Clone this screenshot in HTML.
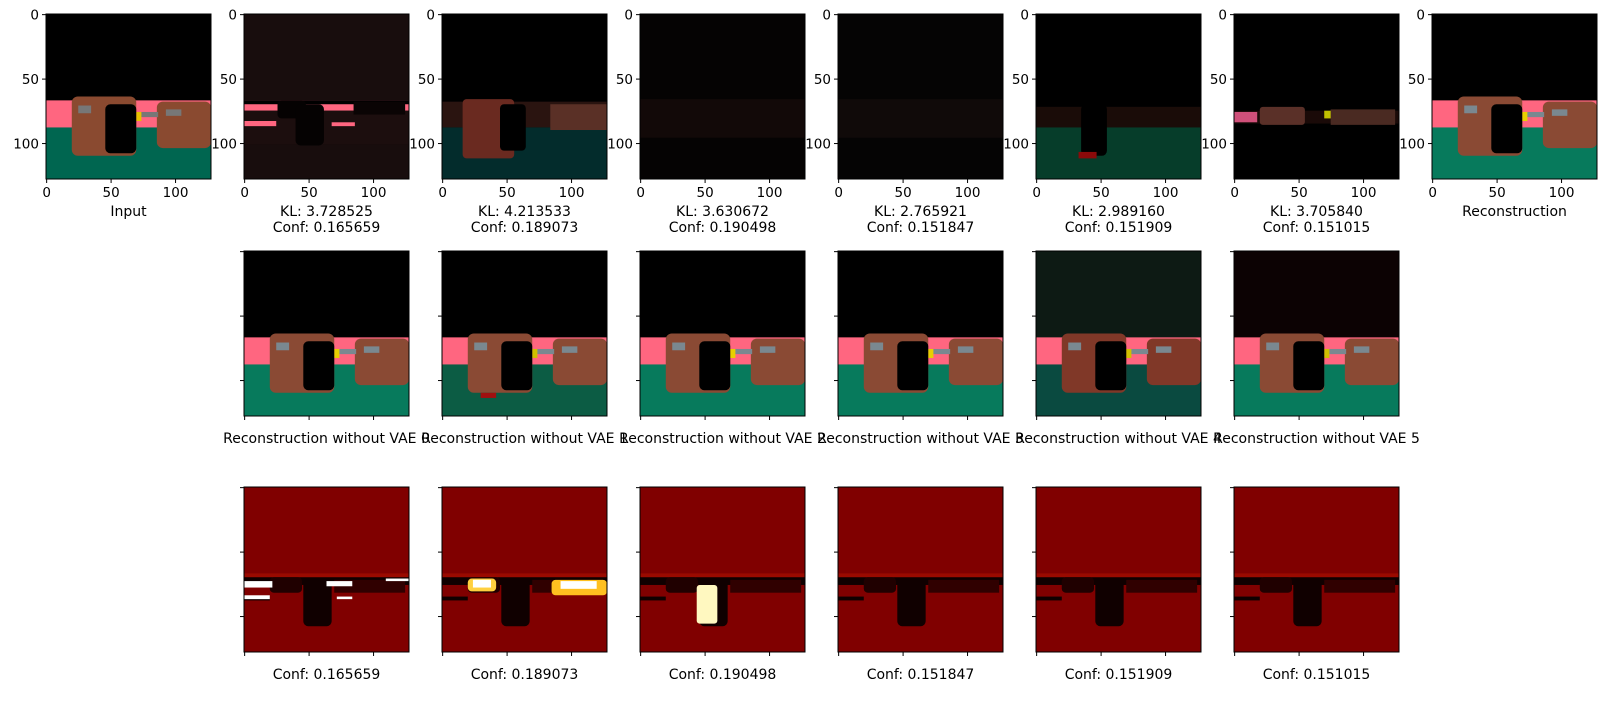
<!DOCTYPE html>
<html><head><meta charset="utf-8">
<style>
body{margin:0;background:#fff;width:1617px;height:702px;overflow:hidden;font-family:"DejaVu Sans","Liberation Sans",sans-serif;}
svg text{font-family:"DejaVu Sans","Liberation Sans",sans-serif;font-size:13.5px;fill:#000;}
svg text.big{font-size:14px;}
</style></head>
<body>
<svg id="fig" width="1617" height="702" viewBox="0 0 1617 702"></svg>
<script>
const klValues = [3.728525, 4.213533, 3.630672, 2.765921, 2.989160, 3.705840];
const confValues = [0.165659, 0.189073, 0.190498, 0.151847, 0.151909, 0.151015];
const xTicks = [0, 50, 100];
const yTicks = [0, 50, 100];
const imgSize = 128;

const NS = 'http://www.w3.org/2000/svg';
const svg = document.getElementById('fig');
const P = 165, X0 = 46, DX = 198, ROWY = [14, 251, 487];
function el(tag, attrs, parent){const e=document.createElementNS(NS,tag);for(const k in attrs)e.setAttribute(k,attrs[k]);(parent||svg).appendChild(e);return e;}
function sc(v){return (v+0.5)/imgSize*P;}

function scene(g, o){
  const r=(x,y,w,h,c,extra)=>{const e=el('rect',Object.assign({x:x/imgSize*P,y:y/imgSize*P,width:w/imgSize*P,height:h/imgSize*P,fill:c},extra||{}),g);return e;};
  r(0,0,128,128,o.sky);
  if(o.pink) r(0,67,128,22,o.pink);
  if(o.floor) r(0,88,128,40,o.floor);
  if(o.tv){ r(20,64,50,46,o.tv,{rx:6}); r(86,68,42,36,o.tv,{rx:6}); }
  if(o.grey){ r(25,71,10,6,o.grey); r(73,76,14,4,o.grey); r(93,74,12,5,o.grey);}
  if(o.yellow) r(70,76,4,7,o.yellow);
  if(o.screen) r(46,70,24,38,o.screen,{rx:5});
  if(o.extra) o.extra(r);
}
const scenes = {
  input:{sky:'#000',pink:'#ff6680',floor:'#006650',tv:'#8a4a30',grey:'#777',yellow:'#e8c000',screen:'#000'},
  recon:{sky:'#000',pink:'#ff6680',floor:'#077a5c',tv:'#8a4a34',grey:'#7a8890',yellow:'#e8d000',screen:'#000'},
};
const row1 = [
  scenes.input,
  {sky:'#180d0d',extra:r=>{r(0,67,128,8,'#ff6680');r(0,67,128,3,'#000');r(0,75,128,26,'#1c0e0e');r(0,83,25,4,'#ff6680');r(68,84,18,3,'#ff6680');r(26,67,22,14,'#050202',{rx:4});r(40,70,22,32,'#050202',{rx:5});r(85,68,40,10,'#0a0404');}},
  {sky:'#000',extra:r=>{r(0,68,128,20,'#2a1410');r(0,88,128,40,'#032c2c');r(16,66,40,46,'#6a2a20',{rx:4});r(45,70,20,36,'#000',{rx:4});r(84,70,44,20,'#5a3026');}},
  {sky:'#050303',extra:r=>{r(0,66,128,30,'#120908');}},
  {sky:'#050404',extra:r=>{r(0,66,128,30,'#100a09');}},
  {sky:'#000',extra:r=>{r(0,72,128,18,'#1a0c08');r(0,88,128,40,'#063d2a');r(35,70,20,40,'#000',{rx:5});r(33,107,14,5,'#8a0a0a');}},
  {sky:'#000',extra:r=>{r(0,75,128,10,'#1a0a08');r(0,76,18,8,'#d0507a');r(20,72,35,14,'#5a3028',{rx:3});r(70,75,6,6,'#c0c000');r(75,74,50,12,'#4a2a22');}},
  scenes.recon
];
const row2 = [
  scenes.recon,
  {sky:'#000',pink:'#ff6680',floor:'#0c5c44',tv:'#8a4a34',grey:'#7a8890',yellow:'#d0c000',screen:'#000',extra:r=>{r(30,110,12,4,'#a01010');}},
  scenes.recon, scenes.recon,
  {sky:'#0d1a14',pink:'#ff6680',floor:'#0a4a40',tv:'#803828',grey:'#7a8890',yellow:'#d0c000',screen:'#000'},
  {sky:'#0c0203',pink:'#ff6680',floor:'#077a5c',tv:'#8a4a34',grey:'#7a8890',yellow:'#d0c000',screen:'#000'}
];
function heat(i){
  return {sky:'#800000',extra:r=>{
    r(0,67,128,4,'#9a0a00');r(0,70,128,6,'#100000');r(0,85,20,3,'#100000');
    r(20,70,25,12,'#200000',{rx:4});r(46,72,22,36,'#100000',{rx:5});r(70,72,55,10,'#300000');
    if(i===0){r(0,73,22,5,'#fff');r(0,84,20,3,'#fff');r(64,73,20,4,'#fff');r(72,85,12,2,'#fff');r(110,71,18,2,'#fff');}
    if(i===1){r(20,71,22,10,'#ffd040',{rx:4});r(24,72,14,6,'#fff');r(85,72,43,12,'#ffc020',{rx:4});r(92,73,28,6,'#fff');}
    if(i===2){r(44,76,16,30,'#fff8c0',{rx:3});}
  }};
}

function panel(col,row,sc_,opts){
  const x=X0+col*DX, y=ROWY[row];
  const g=el('g',{transform:`translate(${x},${y})`});
  
  
  const cl=el('clipPath',{id:'c'+row+'_'+col},g);el('rect',{width:P,height:P},cl);
  const ig=el('g',{'clip-path':`url(#c${row}_${col})`},g);
  scene(ig,sc_);
  el('rect',{x:0,y:0,width:P,height:P,fill:'none',stroke:'#000','stroke-width':1},g);
  xTicks.forEach(v=>{const tx=sc(v);el('line',{x1:tx,x2:tx,y1:P,y2:P+4,stroke:'#000'},g);
    if(opts.labels){const t=el('text',{x:tx,y:P+18,'text-anchor':'middle'},g);t.textContent=v;}});
  yTicks.forEach(v=>{const ty=sc(v);el('line',{x1:0,x2:-4,y1:ty,y2:ty,stroke:'#000'},g);
    if(opts.labels){const t=el('text',{x:-7,y:ty+5,'text-anchor':'end'},g);t.textContent=v;}});
  opts.title.forEach((s,k)=>{const t=el('text',{x:P/2,y:opts.ty+k*16,'text-anchor':'middle',class:'big'},g);t.textContent=s;});
}
row1.forEach((s,i)=>{
  let title, name;
  if(i===0){title=['Input'];name='input-image';}
  else if(i===7){title=['Reconstruction'];name='reconstruction-image';}
  else {title=['KL: '+klValues[i-1].toFixed(6),'Conf: '+confValues[i-1].toFixed(6)];name='vae-'+(i-1)+'-image';}
  panel(i,0,s,{labels:true,title:title,ty:P+37,name:name});
});
row2.forEach((s,i)=>{
  panel(i+1,1,s,{labels:false,title:['Reconstruction without VAE '+i],ty:P+27,name:'recon-without-vae-'+i});
});
confValues.forEach((c,i)=>{
  panel(i+1,2,heat(i),{labels:false,title:['Conf: '+c.toFixed(6)],ty:P+27,name:'confidence-map-'+i});
});
</script>
</body></html>
